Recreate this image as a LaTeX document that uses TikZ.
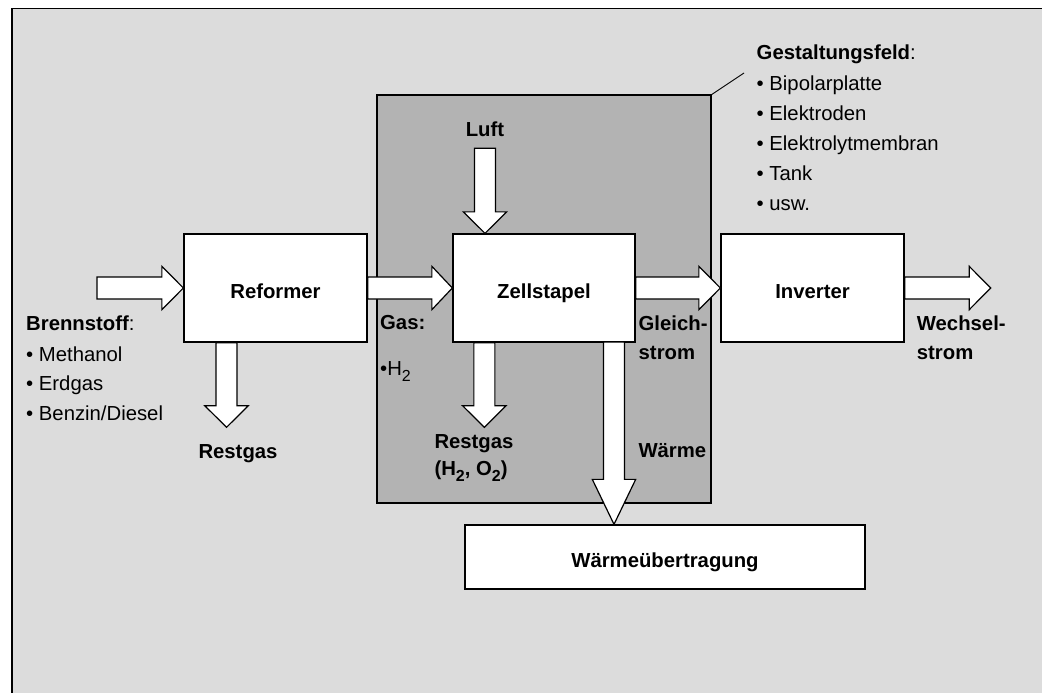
\documentclass[tikz,border=0pt]{standalone}
\usepackage{fontspec}
\setmainfont{Liberation Sans}
\usetikzlibrary{calc}
\definecolor{panel}{RGB}{220,220,220}
\definecolor{field}{RGB}{179,179,179}
\newcommand\lblsize{\fontsize{20.3pt}{24pt}\selectfont}
\newcommand\lowidx[1]{\raisebox{-6.5pt}{\fontsize{16pt}{16pt}\selectfont #1}}
\tikzset{
  box/.style={draw=black, line width=1.3pt, fill=white, inner sep=0pt,
    font=\lblsize\bfseries, text height=20pt, text depth=0pt},
  lbl/.style={inner sep=0pt, anchor=base west, font=\lblsize},
  blbl/.style={lbl, font=\lblsize\bfseries},
  % block arrow pointing right; argument = head length
  harrow/.style={draw=black, line width=1.2pt, fill=white, line join=miter,
    to path={let \p1=(\tikztostart), \p2=(\tikztotarget) in
      (\x1,\y1+11pt) -- (\x2-#1,\y1+11pt) -- (\x2-#1,\y1+21.7pt) -- (\x2,\y1)
      -- (\x2-#1,\y1-21.7pt) -- (\x2-#1,\y1-11pt) -- (\x1,\y1-11pt) -- cycle}},
  harrow/.default=21.5pt,
  % block arrow pointing down; argument = head length
  varrow/.style={draw=black, line width=1.2pt, fill=white, line join=miter,
    to path={let \p1=(\tikztostart), \p2=(\tikztotarget) in
      (\x1-10.5pt,\y1) -- (\x1-10.5pt,\y2+#1) -- (\x1-21.7pt,\y2+#1) -- (\x1,\y2)
      -- (\x1+21.7pt,\y2+#1) -- (\x1+10.5pt,\y2+#1) -- (\x1+10.5pt,\y1) -- cycle}},
  varrow/.default=21.5pt,
}
\begin{document}
\begin{tikzpicture}[x=1pt, y=-1pt, font=\lblsize]
\useasboundingbox (0,0) rectangle (1042,693);
\clip (0,0) rectangle (1042,693);

% outer panel
\draw[line width=1.5pt, fill=panel] (12,8.5) rectangle (1060,710);

% design field
\draw[line width=1.3pt, fill=field] (377,95) rectangle (711,503);
\coordinate (fieldcorner) at (711,95);
\coordinate (calloutend) at (744,73);
\draw[line width=0.9pt] (fieldcorner) -- (calloutend);

% main blocks
\node[box, minimum width=183pt, minimum height=108pt] (ref) at (275.5,288) {Reformer};
\node[box, minimum width=182pt, minimum height=108pt] (zs)  at (544,288) {Zellstapel};
\node[box, minimum width=183pt, minimum height=108pt] (inv) at (812.5,288) {Inverter};
\node[box, minimum width=400pt, minimum height=64pt] (wue) at (665,557) {Wärmeübertragung};

% free ends of the arrows
\coordinate (fuelin) at (97,288);
\coordinate (acout) at (990.7,288);
\coordinate (luftin) at (485,148.3);
\coordinate (rg1top) at ($(ref.south west)+(43.2,0)$);
\coordinate (rg1tip) at (227.2,427.3);
\coordinate (rg2top) at ($(zs.south west)+(32,0)$);
\coordinate (rg2tip) at (485,427.3);
\coordinate (heattop) at (614,342);

% horizontal flow
\draw[harrow] (fuelin) to (ref.west);
\draw[harrow=20.5pt] (ref.east) to (zs.west);
\draw[harrow] (zs.east) to (inv.west);
\draw[harrow] (inv.east) to (acout);

% vertical flows
\draw[varrow] (luftin) to (zs.north -| luftin);
\draw[varrow] (rg1top) to (rg1tip);
\draw[varrow] (rg2top) to (rg2tip);
\draw[varrow=45pt] (heattop) to (wue.north -| heattop);

% fuel
\node[lbl] (fuel) at (26,330.7) {\textbf{Brennstoff}:};
\node[lbl] (fuel1) at (26,361) {• Methanol};
\node[lbl] (fuel2) at (26,390.7) {• Erdgas};
\node[lbl] (fuel3) at (26,420.7) {• Benzin/Diesel};

% labels at the arrows
\node[blbl, anchor=base] (rg1) at (238,458) {Restgas};
\node[blbl] (gas) at (380,329.3) {Gas:};
\node[lbl] (h2) at (380,375) {•H\lowidx{2}};
\node[blbl, anchor=base] (luft) at (485,136.7) {Luft};
\node[blbl] (rg2) at (434.3,448.3) {Restgas};
\node[blbl] (rg2b) at (434.3,475) {(H\lowidx{2}, O\lowidx{2})};
\node[blbl] (dc1) at (638.5,330) {Gleich-};
\node[blbl] (dc2) at (638.5,359.3) {strom};
\node[blbl] (heat) at (638.3,457.3) {Wärme};
\node[blbl] (ac1) at (916.7,330) {Wechsel-};
\node[blbl] (ac2) at (916.7,359.3) {strom};

% design field list
\node[lbl] (gf) at (756.5,60) {\textbf{Gestaltungsfeld}:};
\node[lbl] (gf1) at (756.5,90.5) {• Bipolarplatte};
\node[lbl] (gf2) at (756.5,120.5) {• Elektroden};
\node[lbl] (gf3) at (756.5,150.5) {• Elektrolytmembran};
\node[lbl] (gf4) at (756.5,180.5) {• Tank};
\node[lbl] (gf5) at (756.5,210.5) {• usw.};
\end{tikzpicture}
\end{document}
